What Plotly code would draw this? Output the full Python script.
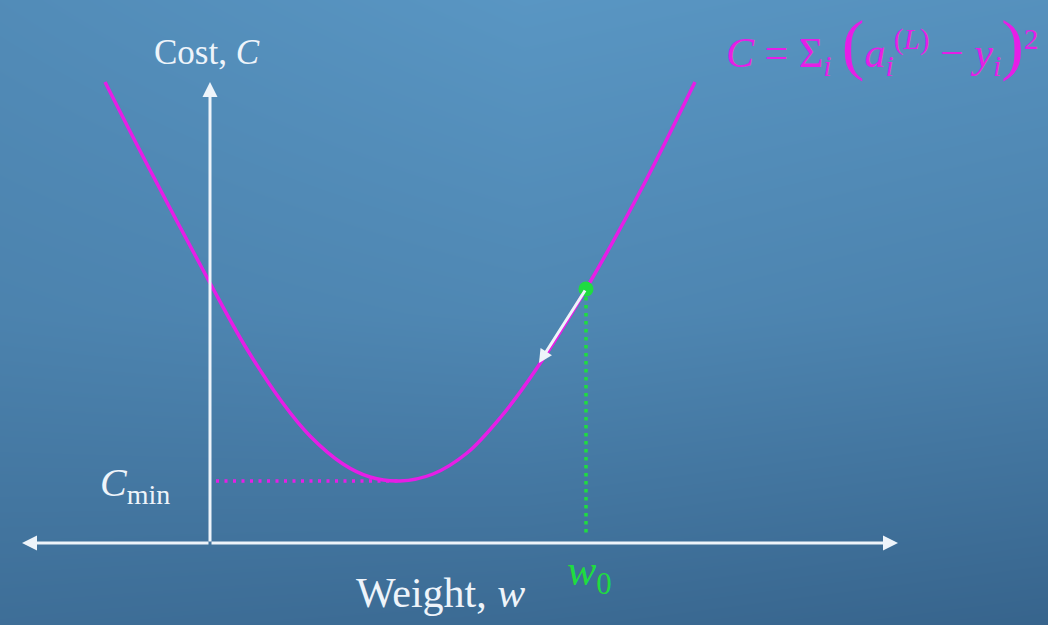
import plotly.graph_objects as go

# ---- data (w = weight, C = cost) ----
curve_w = [-1.05, -0.60, 0.00, 0.35, 0.72, 1.00, 1.33, 1.60, 1.90, 2.23, 2.57, 2.90, 3.27, 3.76, 4.33, 4.85]
curve_c = [4.61, 3.73, 2.60, 1.97, 1.41, 1.07, 0.79, 0.66, 0.62, 0.69, 0.90, 1.25, 1.75, 2.54, 3.57, 4.61]

w_min, c_min = 1.90, 0.62          # minimum of the cost curve
w0, c_w0 = 3.76, 2.54              # current weight (green point)
step_w, step_c = 3.29, 1.80        # tip of the gradient-step arrow

x_axis_left, x_axis_right = -1.88, 6.88
y_axis_top = 4.61

# background gradient levels (3x3 grid)
bg_x = [-2.10, 3.14, 8.38]
bg_y = [-0.82, 2.305, 5.43]
bg_z = [[0.22, 0.16, 0.06],
        [0.54, 0.62, 0.52],
        [0.68, 0.84, 0.76]]

MAGENTA = "#e61ee6"
GREEN = "#1fdc40"
WHITE = "#eef4fa"
FONT = "Liberation Serif"

fig = go.Figure()

fig.add_trace(go.Heatmap(
    x=bg_x, y=bg_y, z=bg_z, zsmooth="best", showscale=False, hoverinfo="skip",
    colorscale=[[0, "rgb(52,96,136)"], [1, "rgb(96,160,206)"]], zmin=0, zmax=1))

# dotted helper lines
fig.add_trace(go.Scatter(x=[0.06, w_min], y=[c_min, c_min], mode="lines",
                         line=dict(color=MAGENTA, width=3.5, dash="3px,5.5px"), hoverinfo="skip"))
fig.add_trace(go.Scatter(x=[w0, w0], y=[c_w0, 0.09], mode="lines",
                         line=dict(color=GREEN, width=3.5, dash="3.5px,4.5px"), hoverinfo="skip"))

# cost curve
fig.add_trace(go.Scatter(x=curve_w, y=curve_c, mode="lines", line_shape="spline",
                         line=dict(color=MAGENTA, width=3.5), hoverinfo="skip"))

# current point
fig.add_trace(go.Scatter(x=[w0], y=[c_w0], mode="markers",
                         marker=dict(color=GREEN, size=15), hoverinfo="skip"))

# axes drawn as arrows
for (hx, hy) in [(x_axis_right, 0), (x_axis_left, 0), (0, y_axis_top)]:
    fig.add_annotation(x=hx, y=hy, ax=0, ay=0, xref="x", yref="y", axref="x", ayref="y",
                       text="", showarrow=True, arrowhead=2, arrowsize=1, arrowwidth=3,
                       arrowcolor=WHITE, standoff=0, startstandoff=0)

# gradient step arrow
fig.add_annotation(x=step_w, y=step_c, ax=w0, ay=c_w0, xref="x", yref="y", axref="x", ayref="y",
                   text="", showarrow=True, arrowhead=2, arrowsize=0.9, arrowwidth=3,
                   arrowcolor=WHITE, standoff=0, startstandoff=0)

# labels
fig.add_annotation(x=-0.03, y=4.91, xref="x", yref="y", showarrow=False,
                   text="Cost, <i>C</i>", font=dict(family=FONT, size=35, color=WHITE))
fig.add_annotation(x=2.30, y=-0.50, xref="x", yref="y", showarrow=False,
                   text="Weight, <i>w</i>", font=dict(family=FONT, size=42, color=WHITE))
fig.add_annotation(x=-0.75, y=0.58, xref="x", yref="y", showarrow=False,
                   text="<i>C</i><sub>min</sub>", font=dict(family=FONT, size=40, color=WHITE))
fig.add_annotation(x=3.79, y=-0.30, xref="x", yref="y", showarrow=False,
                   text="<i>w</i><sub>0</sub>", font=dict(family=FONT, size=44, color=GREEN))
fig.add_annotation(x=1.0, y=1.0, xref="paper", yref="paper", xanchor="right", yanchor="top",
                   xshift=-8, yshift=-4, showarrow=False,
                   text=("<i>C</i> = Σ<sub><i>i</i></sub> <span style='font-size:68px'>(</span>"
                         "<i>a</i><sub><i>i</i></sub><sup>(<i>L</i>)</sup> − <i>y</i><sub><i>i</i></sub>"
                         "<span style='font-size:68px'>)</span><sup>2</sup>"),
                   font=dict(family=FONT, size=42, color=MAGENTA))

fig.update_layout(
    width=1048, height=625, margin=dict(l=0, r=0, t=0, b=0),
    showlegend=False, hovermode=False,
    paper_bgcolor="rgb(70,125,168)", plot_bgcolor="rgb(70,125,168)",
    xaxis=dict(range=[-2.10, 8.38], visible=False, fixedrange=True),
    yaxis=dict(range=[-0.82, 5.43], visible=False, fixedrange=True),
)

fig.write_html("out.html", config={"displayModeBar": False},
               post_script="document.body.style.margin='0';document.body.style.overflow='hidden';")
